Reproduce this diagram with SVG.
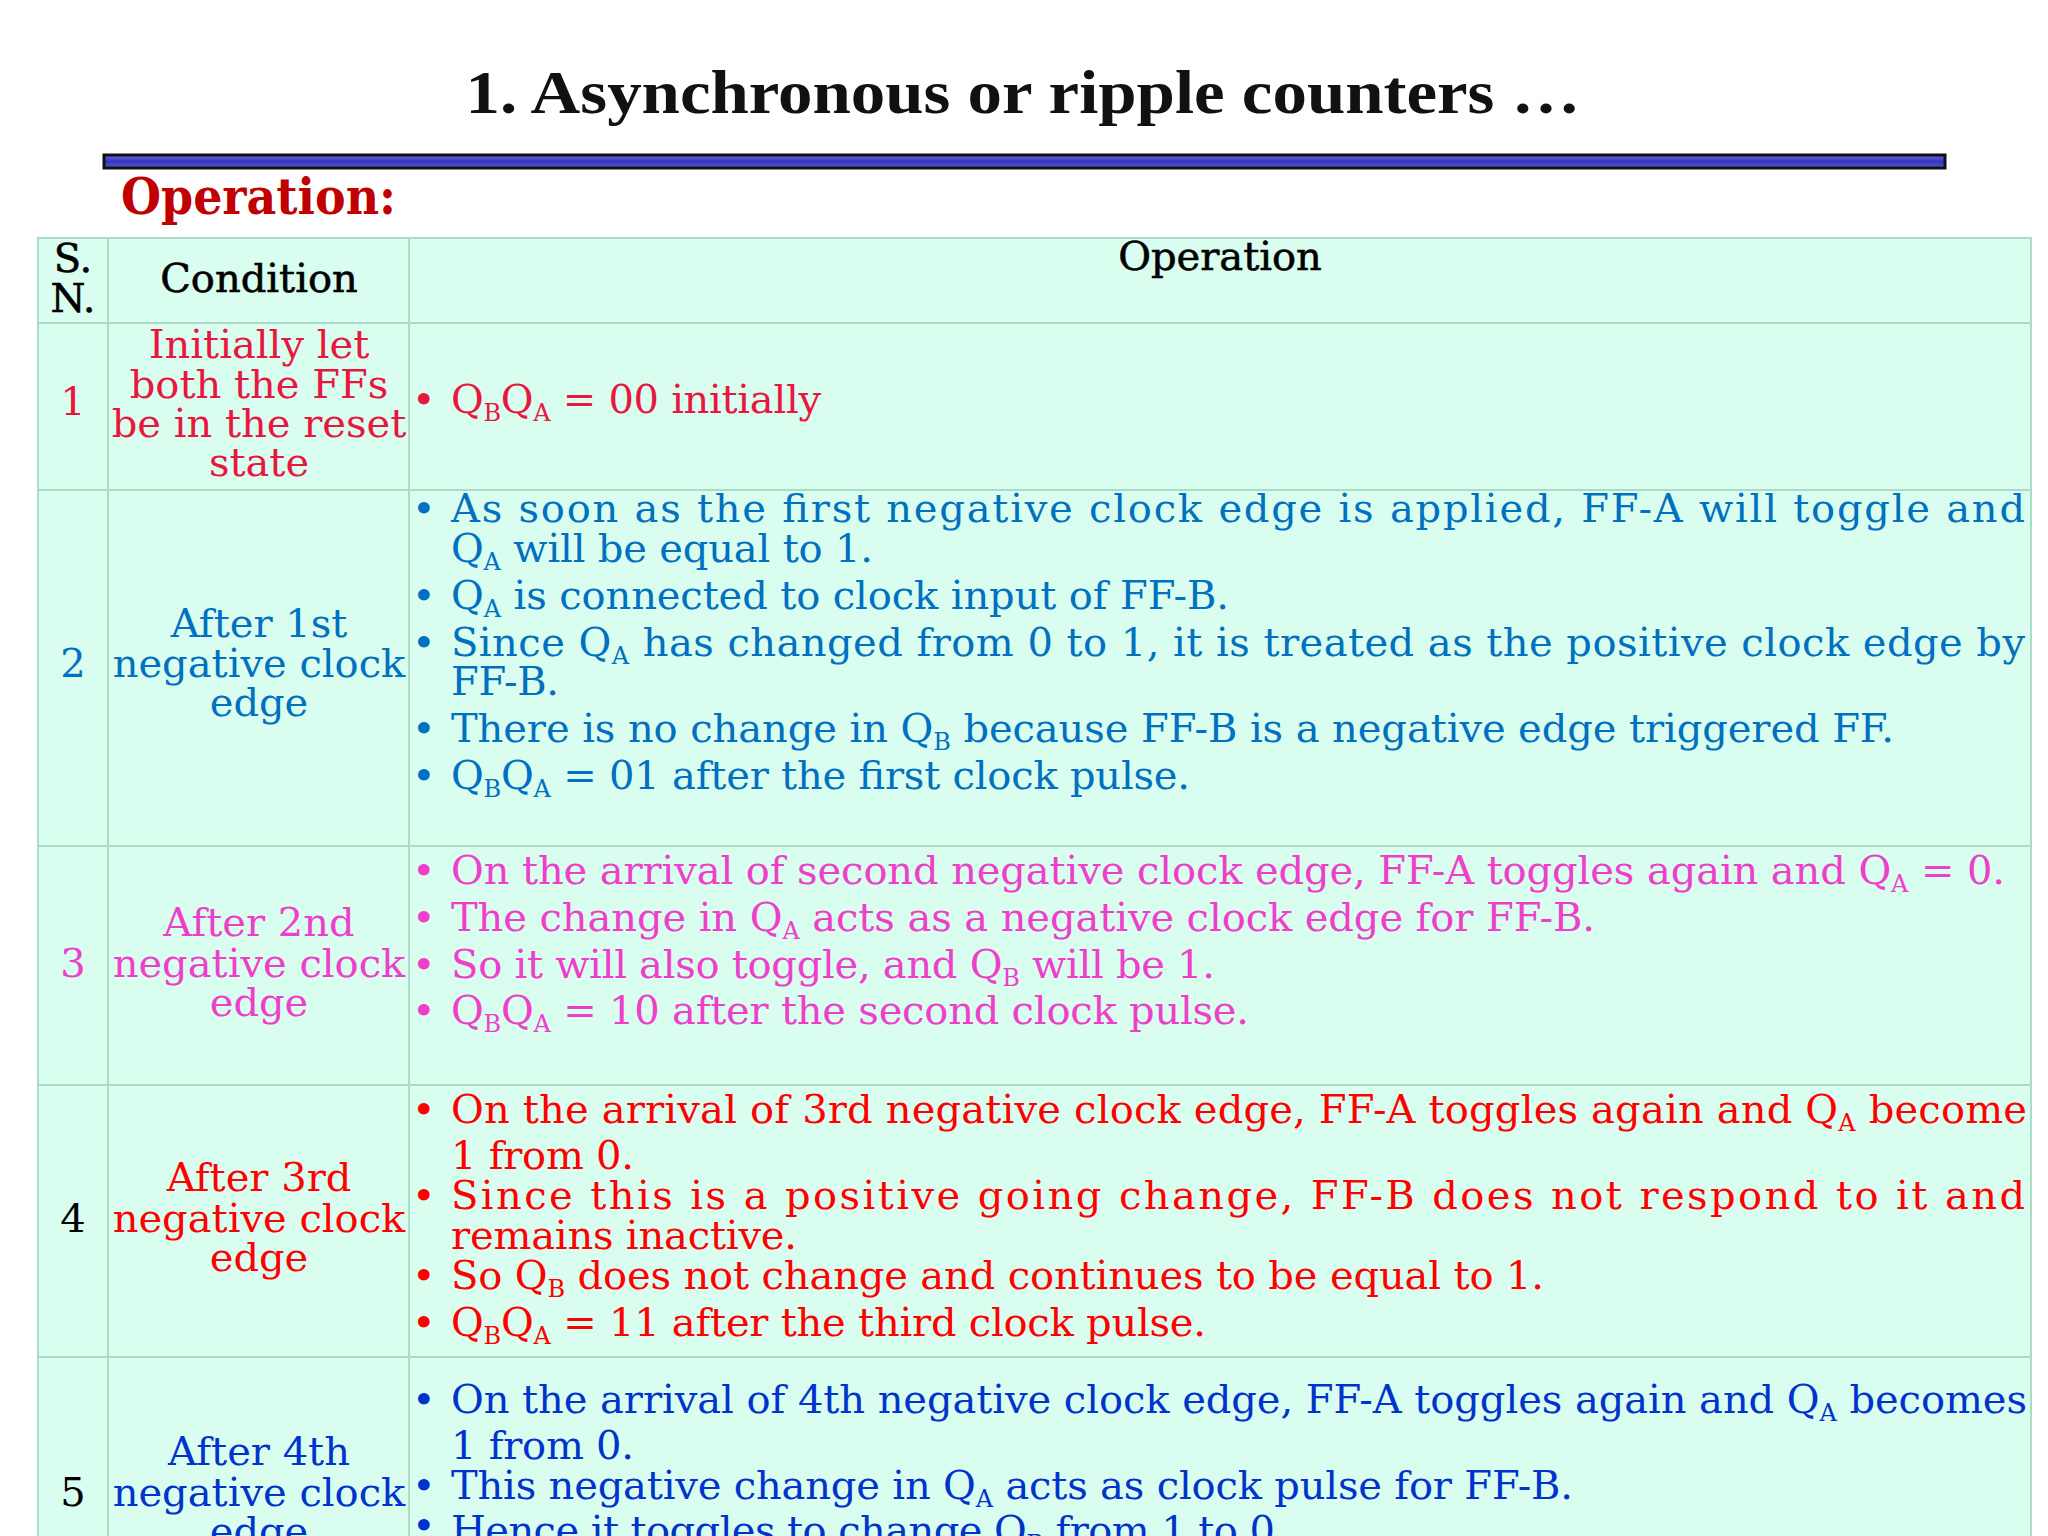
<svg xmlns="http://www.w3.org/2000/svg" width="2048" height="1536" viewBox="0 0 2048 1536">
<defs>
<linearGradient id="bar" x1="0" y1="0" x2="0" y2="1"><stop offset="0" stop-color="#6a6ae0"/><stop offset="0.5" stop-color="#3535c0"/><stop offset="1" stop-color="#5a5ad8"/></linearGradient>
<style>
.t{font-family:"DejaVu Serif","Liberation Serif",serif;font-size:40px}
.c{text-anchor:middle}
.s{font-size:24px}
.r1{fill:#E8173F}.r2{fill:#0070C0}.r3{fill:#EE3FCB}.r4{fill:#FF0000}.r5{fill:#0033CC}
.g{stroke:#A9DCC6;stroke-width:2;fill:none}
</style>
</defs>
<rect width="2048" height="1536" fill="#fff"/>
<text x="1023" y="113" text-anchor="middle" font-family="'Liberation Serif',serif" font-weight="bold" font-size="62" fill="#111" textLength="1115" lengthAdjust="spacingAndGlyphs">1. Asynchronous or ripple counters …</text>
<rect x="104" y="155" width="1841" height="13" fill="url(#bar)" stroke="#111" stroke-width="3"/>
<text x="121" y="214" font-family="'DejaVu Serif',serif" font-weight="bold" font-size="50" fill="#C00000" textLength="275" lengthAdjust="spacingAndGlyphs">Operation:</text>
<g id="table">
<rect x="38" y="238" width="1993" height="1310" fill="#D9FDEE"/>
<g class="g"><rect x="38" y="238" width="1993" height="1310"/>
<line x1="108" y1="238" x2="108" y2="1548"/><line x1="409" y1="238" x2="409" y2="1548"/>
<line x1="38" y1="323" x2="2031" y2="323"/><line x1="38" y1="490" x2="2031" y2="490"/><line x1="38" y1="846" x2="2031" y2="846"/><line x1="38" y1="1085" x2="2031" y2="1085"/><line x1="38" y1="1357" x2="2031" y2="1357"/></g>
</g>
<g id="header" class="t" fill="#000" font-weight="500" stroke="#000" stroke-width="0.6">
<text class="c" x="73" y="272">S.</text><text class="c" x="73" y="312">N.</text>
<text class="c" x="259" y="292">Condition</text>
<text class="c" x="1220" y="270">Operation</text>
</g>
<g id="row1" class="t r1">
<text class="c" x="73" y="415">1</text>
<text class="c" x="259" y="358">Initially let</text><text class="c" x="259" y="398">both the FFs</text><text class="c" x="259" y="437">be in the reset</text><text class="c" x="259" y="476">state</text>
<text x="412" y="413">•</text>
<text x="451" y="413" textLength="370">Q<tspan class="s" dy="8">B</tspan><tspan dy="-8">Q</tspan><tspan class="s" dy="8">A</tspan><tspan dy="-8"> = 00 initially</tspan></text>
</g>
<g id="row2" class="t r2">
<text class="c" x="73" y="677">2</text>
<text class="c" x="259" y="637">After 1st</text><text class="c" x="259" y="677">negative clock</text><text class="c" x="259" y="716">edge</text>
<text x="412" y="522">•</text><text x="412" y="609">•</text><text x="412" y="656">•</text><text x="412" y="742">•</text><text x="412" y="789">•</text>
<text x="451" y="522" textLength="1574">As soon as the first negative clock edge is applied, FF-A will toggle and</text>
<text x="451" y="562" textLength="422">Q<tspan class="s" dy="8">A</tspan><tspan dy="-8"> will be equal to 1.</tspan></text>
<text x="451" y="609" textLength="778">Q<tspan class="s" dy="8">A</tspan><tspan dy="-8"> is connected to clock input of FF-B.</tspan></text>
<text x="451" y="656" textLength="1574">Since Q<tspan class="s" dy="8">A</tspan><tspan dy="-8"> has changed from 0 to 1, it is treated as the positive clock edge by</tspan></text>
<text x="451" y="695" textLength="108">FF-B.</text>
<text x="451" y="742" textLength="1443">There is no change in Q<tspan class="s" dy="8">B</tspan><tspan dy="-8"> because FF-B is a negative edge triggered FF.</tspan></text>
<text x="451" y="789" textLength="739">Q<tspan class="s" dy="8">B</tspan><tspan dy="-8">Q</tspan><tspan class="s" dy="8">A</tspan><tspan dy="-8"> = 01 after the first clock pulse.</tspan></text>
</g>
<g id="row3" class="t r3">
<text class="c" x="73" y="977">3</text>
<text class="c" x="259" y="936">After 2nd</text><text class="c" x="259" y="977">negative clock</text><text class="c" x="259" y="1016">edge</text>
<text x="412" y="884">•</text><text x="412" y="931">•</text><text x="412" y="978">•</text><text x="412" y="1024">•</text>
<text x="451" y="884" textLength="1554">On the arrival of second negative clock edge, FF-A toggles again and Q<tspan class="s" dy="8">A</tspan><tspan dy="-8"> = 0.</tspan></text>
<text x="451" y="931" textLength="1144">The change in Q<tspan class="s" dy="8">A</tspan><tspan dy="-8"> acts as a negative clock edge for FF-B.</tspan></text>
<text x="451" y="978" textLength="764">So it will also toggle, and Q<tspan class="s" dy="8">B</tspan><tspan dy="-8"> will be 1.</tspan></text>
<text x="451" y="1024" textLength="798">Q<tspan class="s" dy="8">B</tspan><tspan dy="-8">Q</tspan><tspan class="s" dy="8">A</tspan><tspan dy="-8"> = 10 after the second clock pulse.</tspan></text>
</g>
<g id="row4" class="t r4">
<text class="c" x="73" y="1232" fill="#000">4</text>
<text class="c" x="259" y="1191">After 3rd</text><text class="c" x="259" y="1232">negative clock</text><text class="c" x="259" y="1271">edge</text>
<text x="412" y="1123">•</text><text x="412" y="1209">•</text><text x="412" y="1289">•</text><text x="412" y="1336">•</text>
<text x="451" y="1123" textLength="1576">On the arrival of 3rd negative clock edge, FF-A toggles again and Q<tspan class="s" dy="8">A</tspan><tspan dy="-8"> become</tspan></text>
<text x="451" y="1169" textLength="183">1 from 0.</text>
<text x="451" y="1209" textLength="1574">Since this is a positive going change, FF-B does not respond to it and</text>
<text x="451" y="1249" textLength="346">remains inactive.</text>
<text x="451" y="1289" textLength="1093">So Q<tspan class="s" dy="8">B</tspan><tspan dy="-8"> does not change and continues to be equal to 1.</tspan></text>
<text x="451" y="1336" textLength="755">Q<tspan class="s" dy="8">B</tspan><tspan dy="-8">Q</tspan><tspan class="s" dy="8">A</tspan><tspan dy="-8"> = 11 after the third clock pulse.</tspan></text>
</g>
<g id="row5" class="t r5">
<text class="c" x="73" y="1506" fill="#000">5</text>
<text class="c" x="259" y="1465">After 4th</text><text class="c" x="259" y="1506">negative clock</text><text class="c" x="259" y="1545">edge</text>
<text x="412" y="1413">•</text><text x="412" y="1499">•</text><text x="412" y="1539">•</text>
<text x="451" y="1413" textLength="1576">On the arrival of 4th negative clock edge, FF-A toggles again and Q<tspan class="s" dy="8">A</tspan><tspan dy="-8"> becomes</tspan></text>
<text x="451" y="1459" textLength="183">1 from 0.</text>
<text x="451" y="1499" textLength="1122">This negative change in Q<tspan class="s" dy="8">A</tspan><tspan dy="-8"> acts as clock pulse for FF-B.</tspan></text>
<text x="451" y="1544" textLength="836">Hence it toggles to change Q<tspan class="s" dy="8">B</tspan><tspan dy="-8"> from 1 to 0.</tspan></text>
</g>
</svg>
